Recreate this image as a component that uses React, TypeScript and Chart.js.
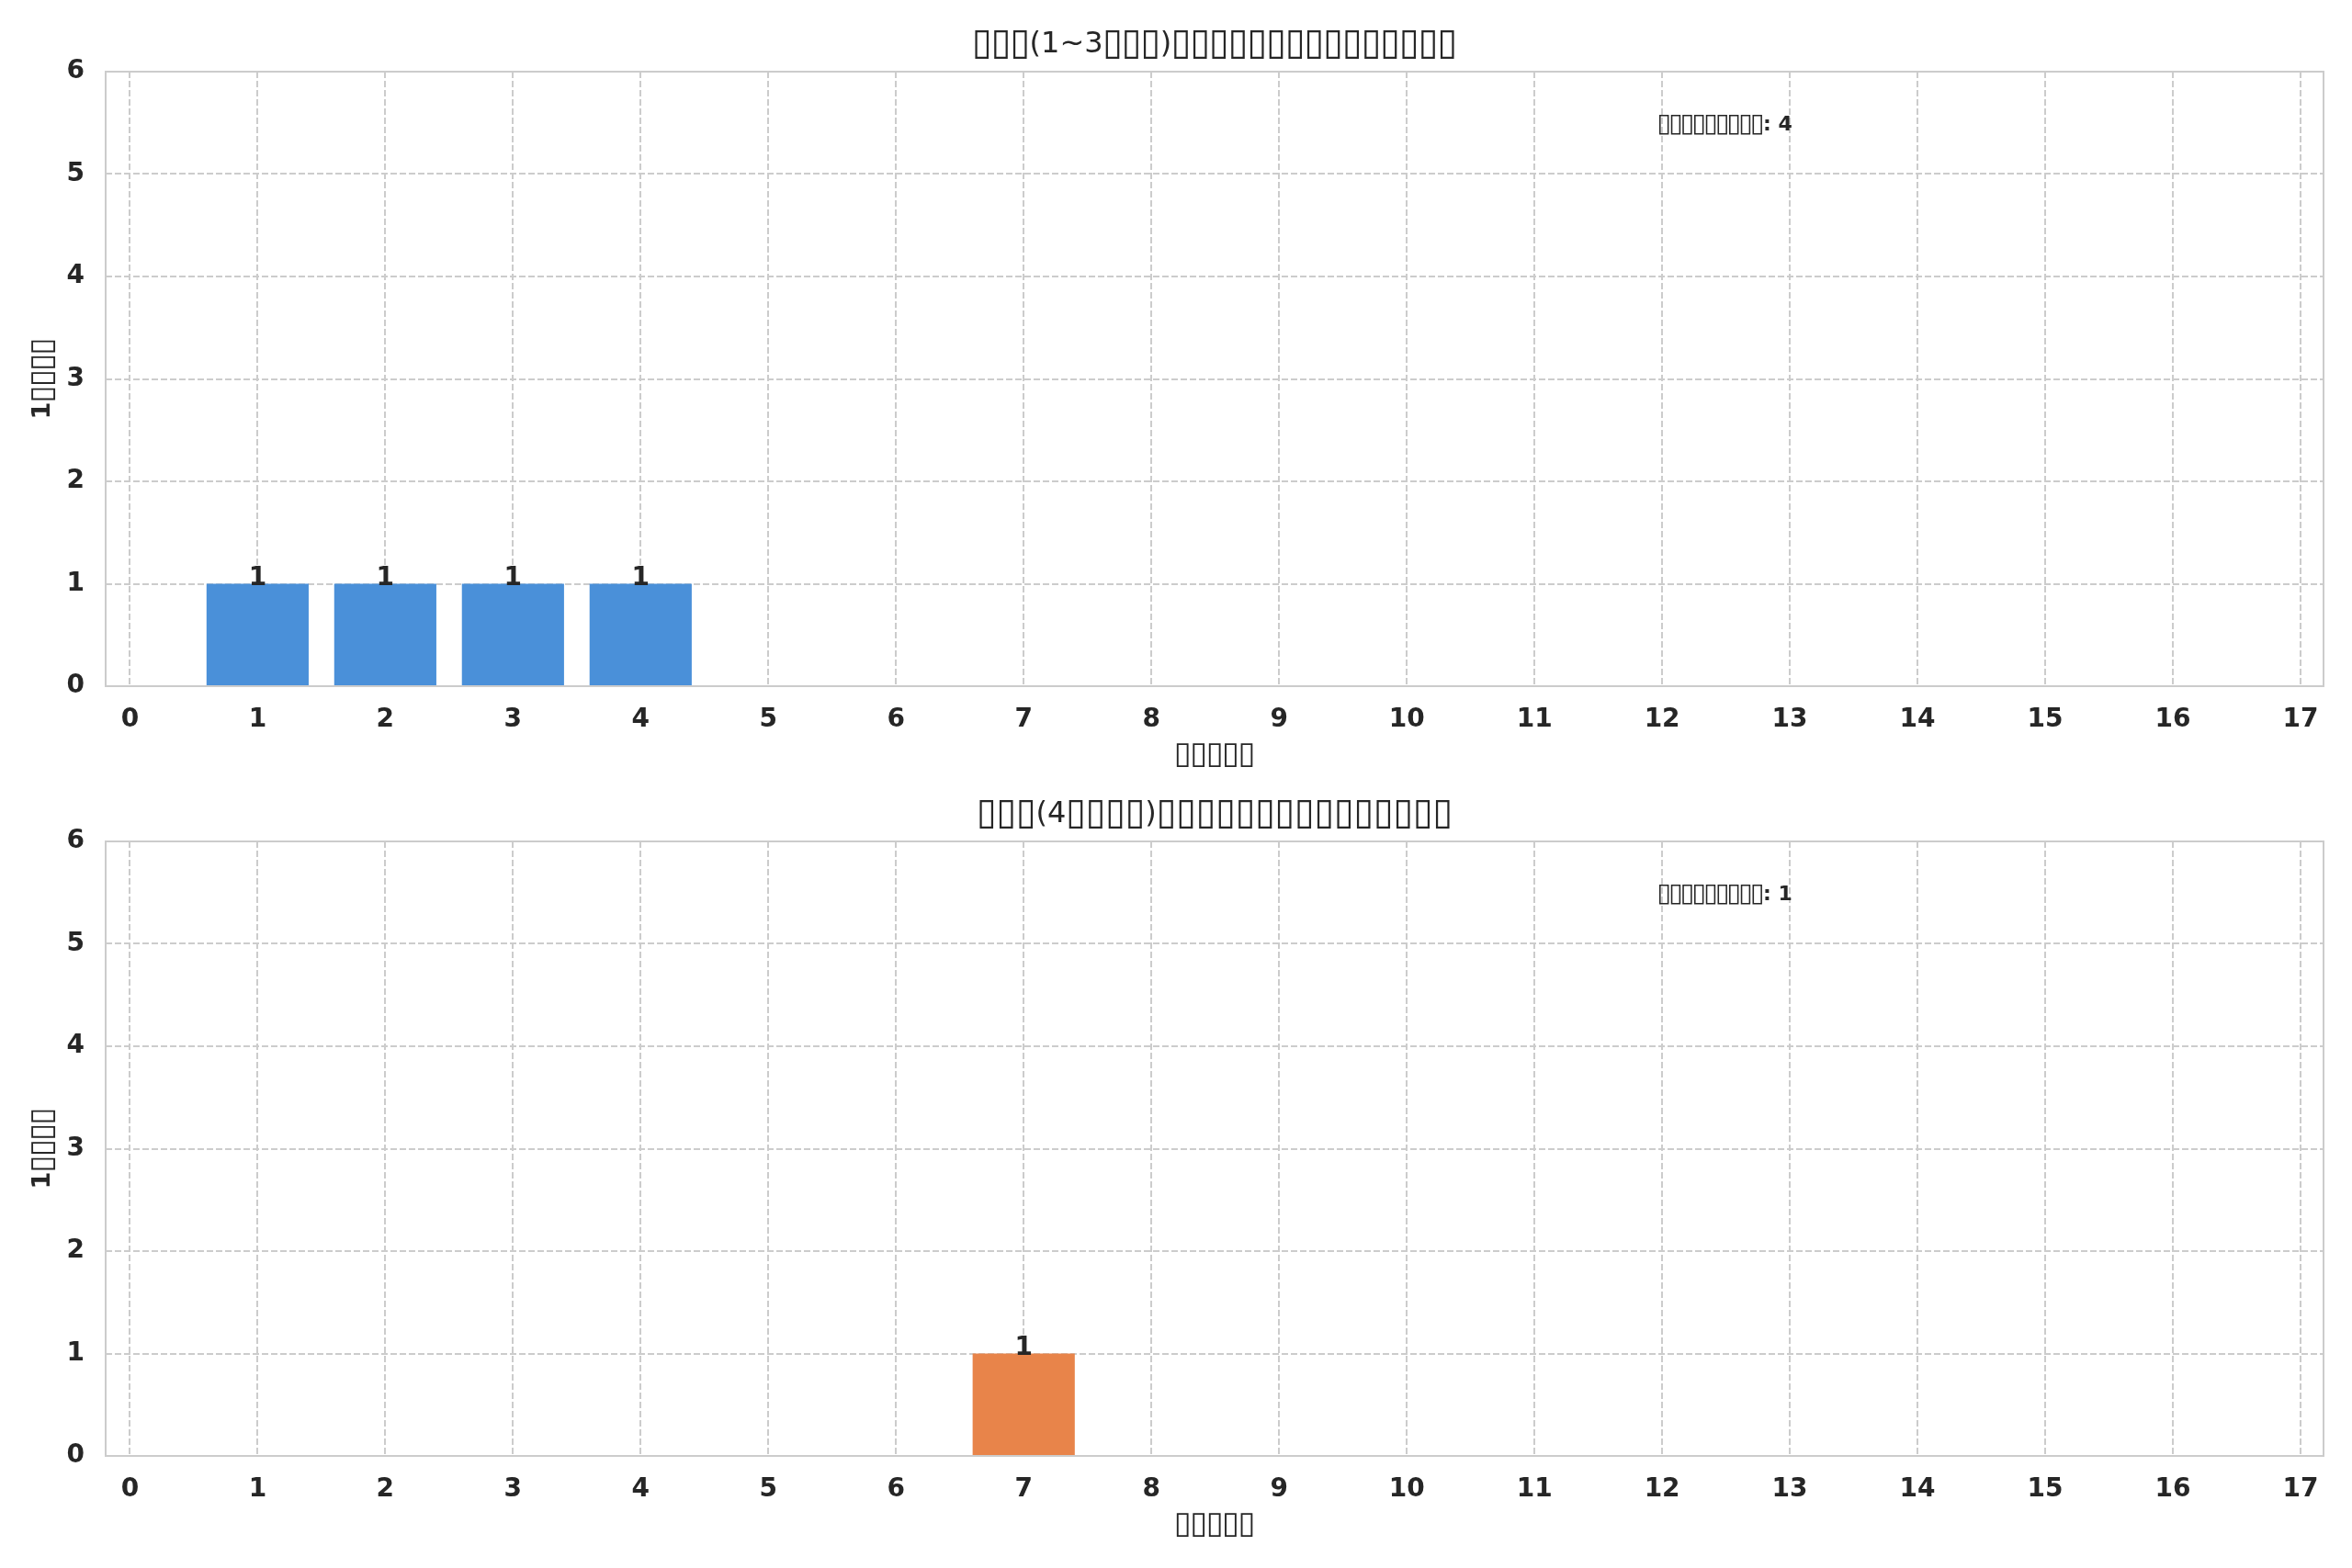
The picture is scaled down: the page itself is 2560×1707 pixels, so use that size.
import React, { useRef, useEffect } from 'react';
import { Chart, registerables } from 'chart.js';

Chart.register(...registerables);

// tofu boxes stand in for the glyphs the original could not render
const topTitle = '▯▯▯(1~3▯▯▯)▯▯▯▯▯▯▯▯▯▯▯▯▯▯▯';
const bottomTitle = '▯▯▯(4▯▯▯▯)▯▯▯▯▯▯▯▯▯▯▯▯▯▯▯';
const xTitle = '▯▯▯▯▯';
const yTitle = '1▯▯▯▯';
const statLabel = '▯▯▯▯▯▯▯▯▯';

const xTicks = [0, 1, 2, 3, 4, 5, 6, 7, 8, 9, 10, 11, 12, 13, 14, 15, 16, 17];
const yTicks = [0, 1, 2, 3, 4, 5, 6];

const topDays = [1, 2, 3, 4];
const topCounts = [1, 1, 1, 1];
const bottomDays = [7];
const bottomCounts = [1];

const topTotal = 4;
const bottomTotal = 1;

const INK = '#262626';
const GRID = '#cccccc';
const FONT = '"DejaVu Sans"';
const BOX = '▯';
const BOX_SCALE = 1.25;

// draw text centred at x; box runs get a larger font and are spread so the
// whole line takes the width it has in the original
const spaced = (ctx, text, x, y, width, size, weight) => {
  const runs = [];
  for (const ch of text) {
    const isBox = ch === BOX;
    const last = runs[runs.length - 1];
    if (last && last.box === isBox) last.text += ch;
    else runs.push({ box: isBox, text: ch });
  }
  const fontFor = (r) => `${weight} ${r.box ? Math.round(size * BOX_SCALE) : size}px ${FONT}`;
  ctx.letterSpacing = '0px';
  let natural = 0;
  let boxes = 0;
  runs.forEach((r) => {
    ctx.font = fontFor(r);
    r.n = [...r.text].length;
    r.w = ctx.measureText(r.text).width;
    natural += r.w;
    if (r.box) boxes += r.n;
  });
  const ls = (width - natural) / boxes;
  ctx.textAlign = 'left';
  let cursor = x - width / 2;
  runs.forEach((r) => {
    ctx.font = fontFor(r);
    if (r.box) {
      ctx.letterSpacing = ls + 'px';
      ctx.fillText(r.text, cursor + ls / 2, y);
      cursor += r.w + ls * r.n;
    } else {
      ctx.letterSpacing = '0px';
      ctx.fillText(r.text, cursor, y);
      cursor += r.w;
    }
  });
  ctx.letterSpacing = '0px';
};

const extras = (title, titleWidth, total) => ({
  id: 'extras',
  afterDatasetsDraw(chart) {
    const { ctx, chartArea } = chart;
    const w = chartArea.right - chartArea.left;
    const h = chartArea.bottom - chartArea.top;
    const cx = (chartArea.left + chartArea.right) / 2;
    ctx.save();
    // frame
    ctx.strokeStyle = GRID;
    ctx.lineWidth = 2;
    ctx.strokeRect(chartArea.left, chartArea.top, w, h);
    // value labels
    ctx.fillStyle = INK;
    ctx.font = `bold 28px ${FONT}`;
    ctx.textAlign = 'center';
    ctx.textBaseline = 'alphabetic';
    const meta = chart.getDatasetMeta(0);
    const vals = chart.data.datasets[0].data;
    meta.data.forEach((bar, i) => {
      ctx.fillText(String(vals[i].y), bar.x, bar.y + 1);
    });
    // titles
    ctx.textBaseline = 'middle';
    spaced(ctx, title, cx, 49, titleWidth, 32, 'normal');
    spaced(ctx, xTitle, cx, 822, 87, 27, 'bold');
    ctx.save();
    ctx.translate(47, (chartArea.top + chartArea.bottom) / 2);
    ctx.rotate(-Math.PI / 2);
    spaced(ctx, yTitle, 0, 0, 88, 27, 'bold');
    ctx.restore();
    // stats text
    spaced(ctx, statLabel + ': ' + total, chartArea.left + 0.7 * w + 73, chartArea.top + 0.087 * h, 146, 22, 'bold');
    ctx.restore();
  },
});

const BarPanel = ({ title, titleWidth, days, counts, color, total, height, top }) => {
  const ref = useRef(null);

  useEffect(() => {
    const chart = new Chart(ref.current.getContext('2d'), {
      type: 'bar',
      data: {
        datasets: [{
          data: days.map((d, i) => ({ x: d, y: counts[i] })),
          backgroundColor: color,
          borderWidth: 0,
          barPercentage: 0.8,
          categoryPercentage: 1,
        }],
      },
      options: {
        responsive: false,
        animation: false,
        events: [],
        layout: { padding: { left: 0, right: 31, top: 78, bottom: 0 } },
        plugins: {
          legend: { display: false },
          tooltip: { enabled: false },
        },
        scales: {
          x: {
            type: 'linear',
            offset: false,
            min: -0.19,
            max: 17.18,
            afterBuildTicks: (s) => { s.ticks = xTicks.map((v) => ({ value: v })); },
            afterFit: (s) => { s.height = height - 747; },
            ticks: {
              color: INK,
              padding: 20,
              font: { family: 'DejaVu Sans', size: 28, weight: 'bold' },
              callback: (v) => String(v),
            },
            grid: { color: GRID, lineWidth: 2, drawTicks: false, offset: false },
            border: { display: false, dash: [7, 3] },
          },
          y: {
            min: 0,
            max: 6,
            afterBuildTicks: (s) => { s.ticks = yTicks.map((v) => ({ value: v })); },
            afterFit: (s) => { s.width = 115; },
            ticks: {
              color: INK,
              padding: 23,
              font: { family: 'DejaVu Sans', size: 28, weight: 'bold' },
            },
            grid: { color: GRID, lineWidth: 2, drawTicks: false },
            border: { display: false, dash: [7, 3] },
          },
        },
      },
      plugins: [extras(title, titleWidth, total)],
    });
    return () => chart.destroy();
  }, []);

  return (
    <canvas
      ref={ref}
      width={2560}
      height={height}
      style={{ position: 'absolute', left: 0, top, width: 2560, height }}
    />
  );
};

export default function App() {
  return (
    <div style={{ position: 'absolute', left: 0, top: 0, width: 2560, height: 1707, background: '#ffffff' }}>
      <BarPanel title={topTitle} titleWidth={527} days={topDays} counts={topCounts} color="#4a90d9"
        total={topTotal} height={838} top={0} />
      <BarPanel title={bottomTitle} titleWidth={518} days={bottomDays} counts={bottomCounts} color="#e8844a"
        total={bottomTotal} height={869} top={838} />
    </div>
  );
}
